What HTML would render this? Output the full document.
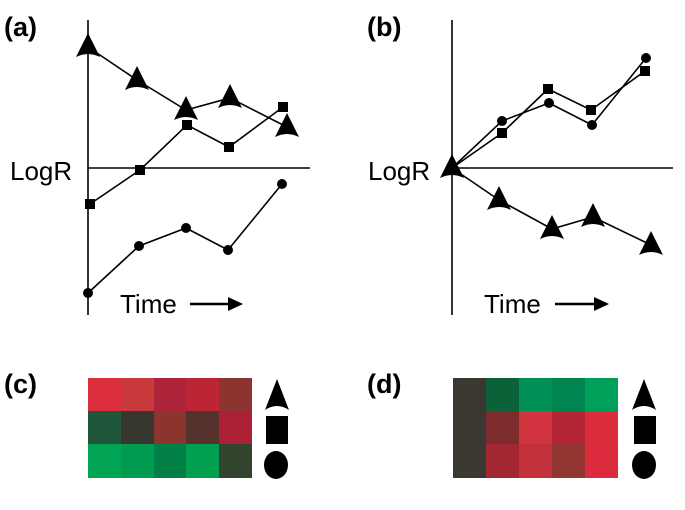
<!DOCTYPE html>
<html><head><style>
html,body{margin:0;padding:0;background:#fff;}
svg{display:block;}
text{font-family:"Liberation Sans",sans-serif;}
</style></head><body>
<svg width="685" height="510" viewBox="0 0 685 510" xmlns="http://www.w3.org/2000/svg">
<defs>
<path id="tri" d="M0,-14 L12,10 Q0,4 -12,10 Z" fill="#000"/>
</defs>
<g fill="#000">
<text x="4" y="36" font-size="27" font-weight="bold">(a)</text>
<text x="367" y="36" font-size="27" font-weight="bold">(b)</text>
<text x="4" y="393" font-size="27" font-weight="bold">(c)</text>
<text x="367" y="393" font-size="27" font-weight="bold">(d)</text>
</g>
<g stroke="#000" stroke-width="1.6" fill="none">
<line x1="88" y1="20" x2="88" y2="315"/>
<line x1="88" y1="168" x2="310" y2="168"/>
<line x1="452" y1="20" x2="452" y2="315"/>
<line x1="452" y1="168" x2="673" y2="168"/>
<polyline points="88,47 137,80 186,110 230,98 287,127"/>
<polyline points="90,204 140,170 187,125 229,147 283,107"/>
<polyline points="88,293 139,246 186,228 228,250 282,184"/>
<polyline points="452,168 499,200 552,229 593,217 651,245"/>
<polyline points="452,168 502,121 549,103 592,125 646,58"/>
<polyline points="452,168 502,133 548,89 591,110 645,71"/>
<line x1="190" y1="304" x2="232" y2="304" stroke-width="2.5"/>
<line x1="555" y1="304" x2="598" y2="304" stroke-width="2.5"/>
</g>
<g fill="#000">
<path d="M243,304 L228,297 L228,311 Z"/>
<path d="M609,304 L594,297 L594,311 Z"/>
<text x="10" y="180" font-size="26">LogR</text>
<text x="368" y="180" font-size="26">LogR</text>
<text x="120" y="313" font-size="26">Time</text>
<text x="484" y="313" font-size="26">Time</text>
<use href="#tri" x="88" y="47"/><use href="#tri" x="137" y="80"/><use href="#tri" x="186" y="110"/><use href="#tri" x="230" y="98"/><use href="#tri" x="287" y="127"/>
<use href="#tri" x="452" y="168"/><use href="#tri" x="499" y="200"/><use href="#tri" x="552" y="229"/><use href="#tri" x="593" y="217"/><use href="#tri" x="651" y="245"/>
<rect x="85" y="199" width="10" height="10"/><rect x="135" y="165" width="10" height="10"/><rect x="182" y="120" width="10" height="10"/><rect x="224" y="142" width="10" height="10"/><rect x="278" y="102" width="10" height="10"/>
<rect x="497" y="128" width="10" height="10"/><rect x="543" y="84" width="10" height="10"/><rect x="586" y="105" width="10" height="10"/><rect x="640" y="66" width="10" height="10"/>
<circle cx="88" cy="293" r="5"/><circle cx="139" cy="246" r="5"/><circle cx="186" cy="228" r="5"/><circle cx="228" cy="250" r="5"/><circle cx="282" cy="184" r="5"/>
<circle cx="502" cy="121" r="5"/><circle cx="549" cy="103" r="5"/><circle cx="592" cy="125" r="5"/><circle cx="646" cy="58" r="5"/>
</g>
<!-- heatmap c -->
<g>
<rect x="88" y="378" width="33" height="33" fill="#dc2f3d"/>
<rect x="121" y="378" width="33" height="33" fill="#c93a3d"/>
<rect x="154" y="378" width="32" height="33" fill="#ad2338"/>
<rect x="186" y="378" width="33" height="33" fill="#bc2535"/>
<rect x="219" y="378" width="33" height="33" fill="#8c3530"/>
<rect x="88" y="411" width="33" height="33" fill="#20563a"/>
<rect x="121" y="411" width="33" height="33" fill="#373730"/>
<rect x="154" y="411" width="32" height="33" fill="#8c352f"/>
<rect x="186" y="411" width="33" height="33" fill="#55332c"/>
<rect x="219" y="411" width="33" height="33" fill="#ab2034"/>
<rect x="88" y="444" width="33" height="34" fill="#00a453"/>
<rect x="121" y="444" width="33" height="34" fill="#009a50"/>
<rect x="154" y="444" width="32" height="34" fill="#007f47"/>
<rect x="186" y="444" width="33" height="34" fill="#00a050"/>
<rect x="219" y="444" width="33" height="34" fill="#33442e"/>
</g>
<!-- heatmap d -->
<g>
<rect x="453" y="378" width="33" height="100" fill="#3a3830"/>
<rect x="486" y="378" width="33" height="33" fill="#0c6238"/>
<rect x="519" y="378" width="33" height="33" fill="#008f55"/>
<rect x="552" y="378" width="33" height="33" fill="#008550"/>
<rect x="585" y="378" width="33" height="33" fill="#00a05a"/>
<rect x="486" y="411" width="33" height="33" fill="#7d2b2c"/>
<rect x="519" y="411" width="33" height="33" fill="#d1343e"/>
<rect x="552" y="411" width="33" height="33" fill="#b42536"/>
<rect x="585" y="411" width="33" height="33" fill="#dc2d3c"/>
<rect x="486" y="444" width="33" height="34" fill="#a22733"/>
<rect x="519" y="444" width="33" height="34" fill="#c3313a"/>
<rect x="552" y="444" width="33" height="34" fill="#933632"/>
<rect x="585" y="444" width="33" height="34" fill="#dc2b3c"/>
</g>
<g fill="#000">
<path d="M277,379 L289,410 Q277,402 265,410 Z"/>
<rect x="266" y="416" width="22" height="28"/>
<ellipse cx="276" cy="465" rx="12" ry="14"/>
<path d="M644,379 L656,410 Q644,402 632,410 Z"/>
<rect x="634" y="416" width="22" height="28"/>
<ellipse cx="644" cy="465" rx="12" ry="14"/>
</g>
</svg>
</body></html>
